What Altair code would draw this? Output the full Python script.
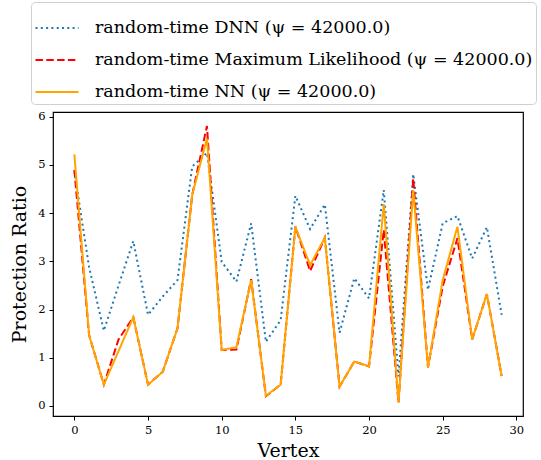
import altair as alt
import pandas as pd

vertices = list(range(30))
dnn = [4.87, 2.88, 1.56, 2.50, 3.42, 1.89, 2.27, 2.61, 4.97, 5.25,
       2.99, 2.58, 3.79, 1.33, 1.78, 4.36, 3.67, 4.18, 1.52, 2.65,
       2.23, 4.48, 0.61, 4.81, 2.41, 3.79, 3.94, 3.06, 3.71, 1.89]
ml = [4.90, 1.47, 0.44, 1.38, 1.84, 0.44, 0.71, 1.61, 4.38, 5.81,
      1.16, 1.17, 2.63, 0.20, 0.44, 3.72, 2.80, 3.49, 0.40, 0.92,
      0.82, 3.65, 0.07, 4.72, 0.80, 2.48, 3.48, 1.38, 2.32, 0.62]
nn = [5.22, 1.47, 0.44, 1.14, 1.84, 0.44, 0.71, 1.61, 4.38, 5.55,
      1.16, 1.22, 2.61, 0.21, 0.44, 3.72, 2.92, 3.49, 0.40, 0.92,
      0.82, 4.19, 0.07, 4.48, 0.80, 2.61, 3.72, 1.38, 2.32, 0.62]

labels = ["random-time DNN (ψ = 42000.0)",
          "random-time Maximum Likelihood (ψ = 42000.0)",
          "random-time NN (ψ = 42000.0)"]
colors = ["#1f77b4", "#ff0000", "#ffa500"]
dashes = [[2, 3.3], [7.5, 3.3], [1, 0]]
x_ticks = [0, 5, 10, 15, 20, 25, 30]
y_ticks = [0, 1, 2, 3, 4, 5, 6]

rows = []
for order, (lab, vals) in enumerate(zip(labels, [dnn, ml, nn])):
    for v, val in zip(vertices, vals):
        rows.append({"Vertex": v, "Ratio": val, "Series": lab, "order": order})
df = pd.DataFrame(rows)

FONT = "DejaVu Serif"

chart = alt.Chart(df).mark_line(strokeWidth=2, clip=True).encode(
    x=alt.X("Vertex:Q",
            scale=alt.Scale(domain=[-1.45, 30.45], nice=False, zero=False),
            axis=alt.Axis(values=x_ticks, title="Vertex", format="d")),
    y=alt.Y("Ratio:Q",
            scale=alt.Scale(domain=[-0.21, 6.1], nice=False, zero=False),
            axis=alt.Axis(values=y_ticks, title="Protection Ratio", format="d")),
    color=alt.Color("Series:N",
                    scale=alt.Scale(domain=labels, range=colors),
                    legend=alt.Legend(title=None, orient="none",
                                      legendX=-22, legendY=-110,
                                      symbolType="stroke", symbolSize=1850,
                                      symbolStrokeWidth=2,
                                      labelFont=FONT, labelFontSize=17.5,
                                      labelColor="#000000",
                                      labelOffset=15, rowPadding=0,
                                      labelLimit=600,
                                      fillColor="white", strokeColor="#d0d0d0",
                                      cornerRadius=4, padding=3)),
    strokeDash=alt.StrokeDash("Series:N",
                              scale=alt.Scale(domain=labels, range=dashes),
                              legend=None),
    order="order:Q",
    detail="Series:N",
).properties(
    width=470, height=304,
    autosize=alt.AutoSizeParams(type="none"),
    padding={"left": 53, "top": 112, "right": 18, "bottom": 44},
).configure_view(
    stroke="#000000", strokeWidth=1.2
).configure_axis(
    grid=False, domain=False,
    tickColor="#000000", tickSize=4, tickWidth=1,
    labelFont=FONT, labelFontSize=11.5, labelColor="#000000", labelPadding=4,
    titleFont=FONT, titleFontSize=19, titleFontWeight="normal", titleColor="#000000",
).configure_axisX(titlePadding=6).configure_axisY(titlePadding=8)

chart.save("out.html", embed_options={"renderer": "svg", "actions": False})
